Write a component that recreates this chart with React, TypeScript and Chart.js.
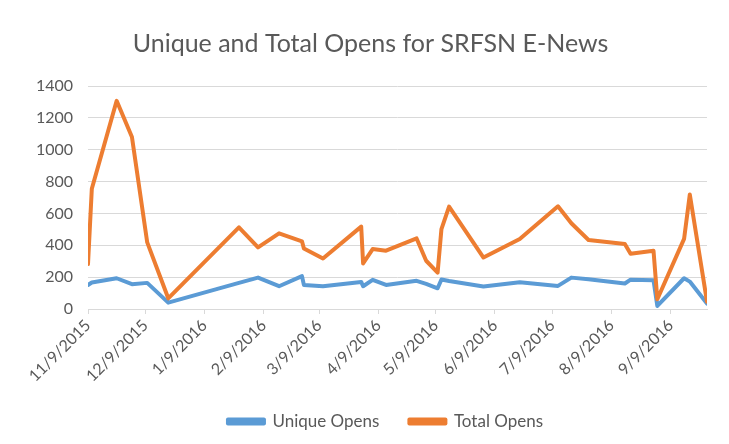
import React, { useEffect, useRef } from "react";
import { Chart, registerables } from "chart.js";

Chart.register(...registerables);

const dates: string[] = [
  "2015-11-09", "2015-11-11", "2015-11-24", "2015-12-02", "2015-12-10", "2015-12-21",
  "2016-01-27", "2016-02-06", "2016-02-17", "2016-02-29", "2016-03-01", "2016-03-11",
  "2016-03-31", "2016-04-01", "2016-04-06", "2016-04-13", "2016-04-29", "2016-05-04",
  "2016-05-10", "2016-05-12", "2016-05-16", "2016-06-03", "2016-06-22", "2016-07-12",
  "2016-07-19", "2016-07-28", "2016-08-16", "2016-08-19", "2016-08-31", "2016-09-02",
  "2016-09-16", "2016-09-19", "2016-09-28",
];

const uniqueOpens: number[] = [
  151, 166, 193, 156, 164, 40, 164, 197, 143, 206, 151, 143, 170, 143, 183, 151, 177,
  158, 130, 185, 176, 141, 168, 145, 197, 187, 160, 184, 181, 19, 193, 172, 34,
];

const totalOpens: number[] = [
  282, 755, 1307, 1080, 418, 67, 513, 387, 475, 425, 380, 317, 517, 286, 376, 366, 443,
  303, 229, 502, 643, 323, 440, 645, 538, 433, 408, 347, 366, 61, 440, 719, 46,
];

const tickDates: string[] = [
  "2015-11-09", "2015-12-09", "2016-01-09", "2016-02-09", "2016-03-09", "2016-04-09",
  "2016-05-09", "2016-06-09", "2016-07-09", "2016-08-09", "2016-09-09",
];

const yTicks: number[] = [0, 200, 400, 600, 800, 1000, 1200, 1400];

const DAY = 86400000;
const toUTC = (s: string) => {
  const [y, m, d] = s.split("-").map(Number);
  return Date.UTC(y, m - 1, d);
};
const origin = toUTC(dates[0]);
const toDay = (s: string) => Math.round((toUTC(s) - origin) / DAY);
const fmt = (s: string) => {
  const [y, m, d] = s.split("-").map(Number);
  return `${m}/${d}/${y}`;
};

const TEXT = "#595959";
const GRID = "#d9d9d9";
const FONT = "Lato";

export default function App() {
  const ref = useRef<HTMLCanvasElement | null>(null);

  useEffect(() => {
    if (!ref.current) return;
    const days = dates.map(toDay);
    const tickDays = tickDates.map(toDay);
    const tickLabel = new Map<number, string>();
    tickDates.forEach((t, i) => tickLabel.set(tickDays[i], fmt(t)));

    const shiftLegend = {
      id: "shiftLegend",
      afterLayout(chart: any) {
        const l = chart.legend;
        if (l) {
          l.left += 15;
          l.right += 15;
        }
      },
    };

    const chart = new Chart(ref.current, {
      type: "line",
      data: {
        datasets: [
          {
            label: "Unique Opens",
            data: days.map((x, i) => ({ x, y: uniqueOpens[i] })),
            borderColor: "#5B9BD5",
            backgroundColor: "#5B9BD5",
            borderWidth: 4,
            pointRadius: 0,
            tension: 0,
            borderCapStyle: "round",
            borderJoinStyle: "round",
            order: 1,
          },
          {
            label: "Total Opens",
            data: days.map((x, i) => ({ x, y: totalOpens[i] })),
            borderColor: "#ED7D31",
            backgroundColor: "#ED7D31",
            borderWidth: 4,
            pointRadius: 0,
            tension: 0,
            borderCapStyle: "round",
            borderJoinStyle: "round",
            order: 0,
          },
        ],
      },
      options: {
        animation: false,
        responsive: false,
        layout: { padding: { left: 34, right: 22, top: 0, bottom: 4 } },
        plugins: {
          title: {
            display: true,
            text: "Unique and Total Opens for SRFSN E-News",
            color: TEXT,
            font: { family: FONT, size: 25, weight: "normal" },
            padding: { top: 29, bottom: 27 },
          },
          legend: {
            position: "bottom",
            labels: {
              color: TEXT,
              font: { family: FONT, size: 17 },
              boxWidth: 36,
              boxHeight: 4,
              padding: 30,
              sort: (a: any, b: any) => a.datasetIndex - b.datasetIndex,
            },
          },
          tooltip: { enabled: false },
        },
        scales: {
          x: {
            type: "linear",
            min: 0,
            max: days[days.length - 1],
            afterBuildTicks: (scale: any) => {
              scale.ticks = tickDays.map((v) => ({ value: v }));
            },
            afterFit: (scale: any) => {
              scale.height = 74;
            },
            grid: {
              drawOnChartArea: false,
              drawTicks: true,
              tickLength: 5,
              color: GRID,
            },
            border: { color: GRID, width: 1 },
            ticks: {
              autoSkip: false,
              minRotation: 45,
              maxRotation: 45,
              padding: 2,
              color: TEXT,
              font: { family: FONT, size: 16 },
              callback: (v: any) => tickLabel.get(Number(v)) ?? "",
            },
          },
          y: {
            min: 0,
            max: 1400,
            afterBuildTicks: (scale: any) => {
              scale.ticks = yTicks.map((v) => ({ value: v }));
            },
            afterFit: (scale: any) => {
              scale.width = 54;
            },
            grid: { color: GRID, drawTicks: false },
            border: { display: false },
            ticks: {
              padding: 15,
              color: TEXT,
              font: { family: FONT, size: 16 },
              callback: (v: any) => String(v),
            },
          },
        },
      },
      plugins: [shiftLegend],
    } as any);

    return () => chart.destroy();
  }, []);

  return (
    <div style={{ position: "fixed", left: 0, top: 0, width: 729, height: 444, background: "#fff" }}>
      <canvas ref={ref} width={729} height={444} style={{ display: "block" }} />
    </div>
  );
}
